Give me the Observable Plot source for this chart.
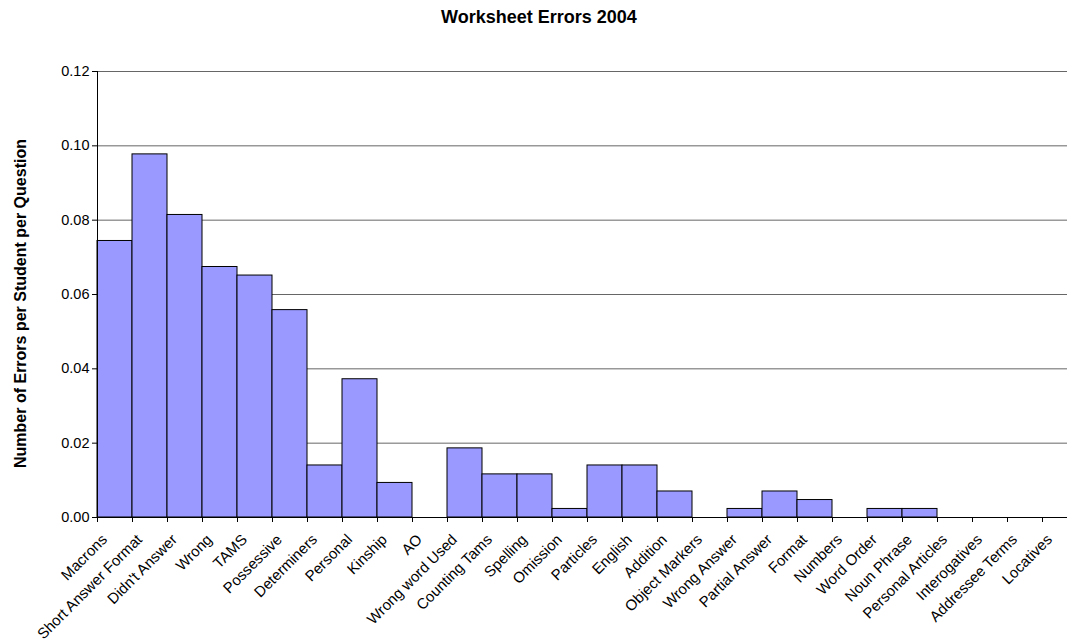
<!DOCTYPE html>
<html>
<head>
<meta charset="utf-8">
<script src="https://cdn.jsdelivr.net/npm/d3@7"></script>
<script src="https://cdn.jsdelivr.net/npm/@observablehq/plot@0.6"></script>
<style>
  html, body { margin: 0; padding: 0; background: #fff; overflow: hidden; }
  #wrap { position: relative; width: 1067px; height: 639px; }
  #title {
    position: absolute; top: 7px; left: 0; width: 1078px; text-align: center;
    font: bold 18px "Liberation Sans", Arial, sans-serif; color: #000;
  }
</style>
</head>
<body>
<div id="wrap">
  <div id="title">Worksheet Errors 2004</div>
  <div id="chart"></div>
</div>
<script>
// Error categories, in the order they are plotted
const categories = [
  "Macrons", "Short Answer Format", "Didn't Answer", "Wrong", "TAMS", "Possessive",
  "Determiners", "Personal", "Kinship", "AO", "Wrong word Used", "Counting Tams",
  "Spelling", "Omission", "Particles", "English", "Addition", "Object Markers",
  "Wrong Answer", "Partial Answer", "Format", "Numbers", "Word Order", "Noun Phrase",
  "Personal Articles", "Interogatives", "Addressee Terms", "Locatives"
];

// Number of errors per student per question, one value per category
const errorsPerQuestion = [
  0.0744, 0.0977, 0.0814, 0.0674, 0.0651, 0.0558,
  0.0140, 0.0372, 0.0093, 0.0000, 0.0186, 0.0116,
  0.0116, 0.0023, 0.0140, 0.0140, 0.0070, 0.0000,
  0.0023, 0.0070, 0.0047, 0.0000, 0.0023, 0.0023,
  0.0000, 0.0000, 0.0000, 0.0000
];

const yTicks = [0, 0.02, 0.04, 0.06, 0.08, 0.10, 0.12];
const yTitle = "Number of Errors per Student per Question";

const rows = categories.map((name, i) => ({ name, i, value: errorsPerQuestion[i] }));
const font = "'Liberation Sans', Arial, sans-serif";

const chart = Plot.plot({
  width: 1067,
  height: 639,
  marginTop: 71,
  marginBottom: 122,
  marginLeft: 97,
  marginRight: -10,
  style: { fontFamily: font, fontSize: "14px", color: "#000", background: "#fff", overflow: "hidden" },
  x: { type: "linear", domain: [0, categories.length], axis: null },
  y: { domain: [0, 0.12], axis: null },
  marks: [
    // horizontal gridlines
    Plot.ruleY(yTicks.slice(1), { stroke: "#666", strokeWidth: 1 }),
    // one bar per category, no gap between bars
    Plot.rectY(rows, {
      x1: d => d.i, x2: d => d.i + 1, y: "value",
      fill: "#9999ff", stroke: "#000", strokeWidth: 1
    }),
    // axis lines
    Plot.ruleY([0], { stroke: "#000" }),
    Plot.ruleX([0], { stroke: "#000" }),
    Plot.axisY({
      ticks: yTicks, tickFormat: d3.format(".2f"), tickSize: 5, tickPadding: 3,
      anchor: "left", label: null, fontSize: 14.5
    }),
    // tick marks on the category boundaries
    Plot.axisX({
      ticks: d3.range(0, categories.length + 1), tickFormat: () => "",
      tickSize: 5, anchor: "bottom", label: null
    }),
    // slanted category labels
    Plot.text(rows, {
      x: d => d.i + 0.5, frameAnchor: "bottom", text: "name",
      rotate: -45, textAnchor: "end", dx: -7, dy: 23, fontSize: 15
    }),
    // y-axis title
    Plot.text([yTitle], {
      frameAnchor: "left", textAnchor: "middle", rotate: -90, dx: -77, dy: 9,
      fontWeight: "bold", fontSize: 16
    })
  ]
});

document.getElementById("chart").appendChild(chart);
</script>
</body>
</html>
